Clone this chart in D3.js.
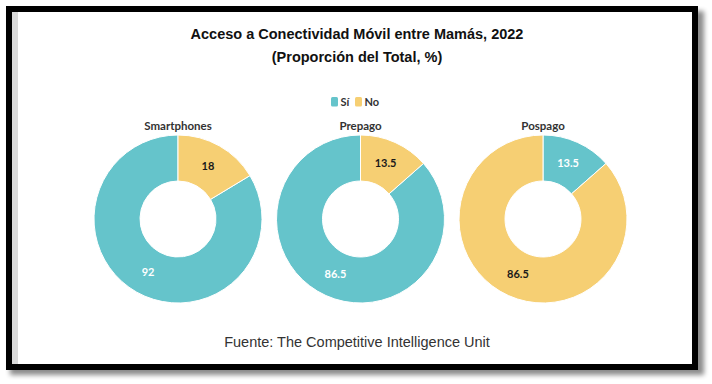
<!DOCTYPE html>
<html>
<head>
  <title>Acceso a Conectividad Móvil entre Mamás</title>
</head>
<style>
  body {
    margin: 0;
    background: #fff;
  }
  .lbl {
    font-family: Lato, "Open Sans", sans-serif;
    font-weight: bold;
  }
</style>
<body>
  <script src="https://d3js.org/d3.v7.min.js"></script>
  <script>
    // datos
    const categories = ["Smartphones", "Prepago", "Pospago"];
    const seriesNames = ["Sí", "No"];
    const siValues = [92, 86.5, 13.5];
    const noValues = [18, 13.5, 86.5];

    const w = 712;
    const h = 384;

    const teal = "#65c4cb";
    const yellow = "#f6cf73";

    const color = d3.scaleOrdinal()
                    .domain(seriesNames)
                    .range([teal, yellow]);

    const svg = d3.select("body")
                  .append("svg")
                  .attr("width", w)
                  .attr("height", h);

    // marco con sombra
    const defs = svg.append("defs");
    defs.append("filter")
        .attr("id", "sombra")
        .attr("x", "-5%").attr("y", "-5%")
        .attr("width", "110%").attr("height", "115%")
      .append("feGaussianBlur")
        .attr("stdDeviation", 2.5);

    svg.append("rect")
       .attr("x", 10).attr("y", 11)
       .attr("width", 694).attr("height", 364)
       .attr("fill", "#000")
       .attr("opacity", 0.45)
       .attr("filter", "url(#sombra)");

    svg.append("rect")
       .attr("x", 9).attr("y", 9)
       .attr("width", 686).attr("height", 358)
       .attr("fill", "#fff")
       .attr("stroke", "#000")
       .attr("stroke-width", 6);

    svg.append("rect")
       .attr("x", 12).attr("y", 12)
       .attr("width", 6).attr("height", 352)
       .attr("fill", "#d9d9d9");

    // títulos
    svg.append("text")
       .attr("x", 357).attr("y", 38.5)
       .attr("text-anchor", "middle")
       .attr("font-family", "'Liberation Sans', Arial, sans-serif")
       .attr("font-weight", "bold")
       .attr("font-size", 14.5)
       .attr("fill", "#111")
       .text("Acceso a Conectividad Móvil entre Mamás, 2022");

    svg.append("text")
       .attr("x", 357).attr("y", 62)
       .attr("text-anchor", "middle")
       .attr("font-family", "'Liberation Sans', Arial, sans-serif")
       .attr("font-weight", "bold")
       .attr("font-size", 14.5)
       .attr("fill", "#111")
       .text("(Proporción del Total, %)");

    // leyenda
    const legendX = d3.scalePoint()
                      .domain(seriesNames)
                      .range([331, 355]);

    const legend = svg.append("g")
                      .selectAll("g")
                      .data(seriesNames)
                      .join("g")
                      .attr("transform", d => "translate(" + legendX(d) + ",97)");

    legend.append("rect")
          .attr("width", 7)
          .attr("height", 9.5)
          .attr("rx", 1.5)
          .attr("fill", d => color(d));

    legend.append("text")
          .attr("class", "lbl")
          .attr("x", 9.5)
          .attr("y", 8.5)
          .attr("font-size", 11)
          .attr("fill", "#333")
          .text(d => d);

    // donas
    const x = d3.scaleBand()
                .domain(categories)
                .range([86.75, 634.25]);

    const cy = 219;
    const rOuter = 84;
    const rInner = 38;

    const arc = d3.arc()
                  .innerRadius(rInner)
                  .outerRadius(rOuter);

    const pie = d3.pie()
                  .value(d => d.value)
                  .sort((a, b) => a.value - b.value);

    categories.forEach((cat, i) => {
      const rows = seriesNames.map((s, j) => ({
        name: s,
        value: j === 0 ? siValues[i] : noValues[i]
      }));

      const g = svg.append("g")
                   .attr("transform", "translate(" + (x(cat) + x.bandwidth() / 2) + "," + cy + ")");

      g.append("text")
       .attr("class", "lbl")
       .attr("y", -rOuter - 5)
       .attr("text-anchor", "middle")
       .attr("font-size", 11.5)
       .attr("fill", "#333")
       .text(cat);

      const slices = g.selectAll("g.slice")
                      .data(pie(rows))
                      .join("g")
                      .attr("class", "slice");

      slices.append("path")
            .attr("d", arc)
            .attr("fill", d => color(d.data.name))
            .attr("stroke", "#fff")
            .attr("stroke-width", 1);

      slices.append("text")
            .attr("class", "lbl")
            .attr("transform", d => "translate(" + arc.centroid(d) + ")")
            .attr("text-anchor", "middle")
            .attr("dy", "0.35em")
            .attr("font-size", 11)
            .attr("fill", d => d.data.name === "Sí" ? "#fff" : "#1a1a1a")
            .text(d => d.data.value);
    });

    // fuente
    svg.append("text")
       .attr("x", 357).attr("y", 347)
       .attr("text-anchor", "middle")
       .attr("font-family", "'Liberation Sans', Arial, sans-serif")
       .attr("font-size", 14.5)
       .attr("fill", "#333")
       .text("Fuente: The Competitive Intelligence Unit");
  </script>
</body>
</html>
